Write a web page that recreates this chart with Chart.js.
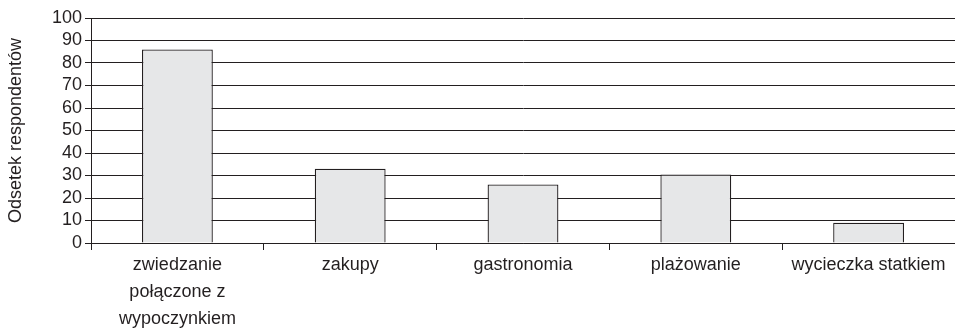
<!DOCTYPE html>
<html>
<head>
<meta charset="utf-8">
<script src="https://cdn.jsdelivr.net/npm/chart.js@4"></script>
<style>
  html, body { margin: 0; padding: 0; background: #fff; }
  #wrap { width: 955px; height: 328px; }
</style>
</head>
<body>
<div id="wrap"><canvas id="chart" width="955" height="328"></canvas></div>
<script>
const categories = [
  ["zwiedzanie", "połączone z", "wypoczynkiem"],
  "zakupy",
  "gastronomia",
  "plażowanie",
  "wycieczka statkiem",
];
const shares = [86, 33, 26, 30.5, 9];
const yTicks = [0, 10, 20, 30, 40, 50, 60, 70, 80, 90, 100];

const ink = "#231f20";
const font = { family: "'Liberation Sans', Arial, sans-serif", size: 18 };

new Chart(document.getElementById("chart").getContext("2d"), {
  type: "bar",
  data: {
    labels: categories,
    datasets: [
      {
        label: "Odsetek respondentów",
        data: shares,
        backgroundColor: "#e6e7e8",
        borderColor: ink,
        borderWidth: 1.3,
        categoryPercentage: 0.41,
        barPercentage: 1,
      },
    ],
  },
  options: {
    responsive: false,
    animation: false,
    layout: { padding: { top: 18, right: 0, left: 0, bottom: 0 } },
    plugins: {
      legend: { display: false },
      tooltip: { enabled: false },
    },
    scales: {
      x: {
        grid: {
          drawOnChartArea: false,
          drawTicks: true,
          tickLength: 7,
          color: ink,
        },
        border: { color: ink, width: 1 },
        ticks: {
          color: ink,
          font: { ...font, lineHeight: 1.5 },
          maxRotation: 0,
          autoSkip: false,
          padding: 2,
        },
        afterFit: scale => { scale.height = 85; },
      },
      y: {
        min: 0,
        max: 100,
        afterBuildTicks: scale => { scale.ticks = yTicks.map(v => ({ value: v })); },
        grid: { color: ink, tickLength: 6, lineWidth: 1 },
        border: { color: ink, width: 1 },
        ticks: { color: ink, font, padding: 3, autoSkip: false },
        title: {
          display: true,
          text: "Odsetek respondentów",
          color: ink,
          font,
          padding: { top: 5, bottom: 2 },
        },
        afterFit: scale => { scale.width = 91; },
      },
    },
  },
});
</script>
</body>
</html>
